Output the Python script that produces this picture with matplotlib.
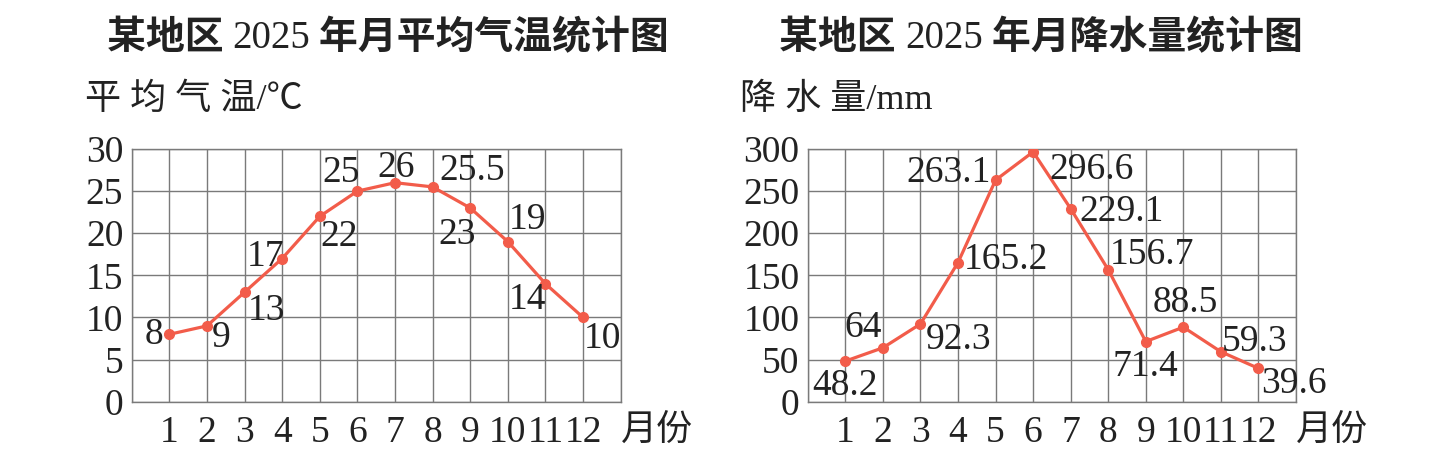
import matplotlib
matplotlib.use("Agg")
from matplotlib import pyplot as plt

###
# Monthly mean temperature and precipitation, 2025
###

months = list(range(1, 13))
temp = [8, 9, 13, 17, 22, 25, 26, 25.5, 23, 19, 14, 10]
rain = [48.2, 64, 92.3, 165.2, 263.1, 296.6, 229.1, 156.7, 71.4, 88.5, 59.3, 39.6]

temp_title = ["某地区 ", "2025", " 年月平均气温统计图"]
rain_title = ["某地区 ", "2025", " 年月降水量统计图"]
temp_ylabel = "平 均 气 温/℃"
rain_ylabel = "降 水 量/mm"
xlabel = "月份"

# label offsets in pixels (dx right, dy down) from each point
temp_off = [(-15, 0), (14, 12), (22, 19), (-17, -2), (19, 20), (-16, -18),
            (1, -15), (40, -16), (-13, 27), (20, -22), (-18, 16), (19, 21)]
rain_off = [(0, 25), (-20, -20), (38, 16), (48, -3), (-47, -7), (58, 18),
            (51, 3), (44, -15), (0, 25), (2, -24), (34, -10), (35, 15)]

W, H = 1441, 463
CJK = "Noto Sans CJK SC"
SERIF = "Liberation Serif"
MIXED = [SERIF, CJK]
INK = "#222222"
RED = "#f25c4a"
GRID = "#7a7a7a"
NUM = 27

fig = plt.figure(figsize=(W / 100, H / 100), dpi=100)


def make_axes(left_px, width_px, values, ymax, ystep, offsets, ylabel, ylab_x):
    ax = fig.add_axes([left_px / W, (H - 401.7) / H, width_px / W, (401.7 - 149) / H])
    ax.set_xlim(0, 13)
    ax.set_ylim(0, ymax)
    ax.set_xticks(range(0, 14))
    ax.set_xticklabels([""] + [str(m) for m in months] + [""])
    ax.set_yticks(range(0, ymax + 1, ystep))
    ax.grid(True, color=GRID, lw=1.0)
    ax.set_axisbelow(True)
    for s in ax.spines.values():
        s.set_color(GRID)
        s.set_linewidth(1.0)
    ax.tick_params(length=0, labelsize=NUM, labelcolor=INK)
    ax.tick_params(axis="y", pad=6)
    ax.tick_params(axis="x", pad=10)
    for lab in ax.get_xticklabels() + ax.get_yticklabels():
        lab.set_family(SERIF)
    ax.plot(months, values, color=RED, lw=2.3, marker="o", ms=7, zorder=3)
    for m, v, (dx, dy) in zip(months, values, offsets):
        ax.annotate(f"{v:g}", (m, v), xytext=(dx, -dy), textcoords="offset pixels",
                    ha="center", va="center", fontsize=NUM, family=SERIF, color=INK,
                    zorder=4)
    # axis captions
    fig.text(ylab_x / W, 1 - 100 / H, ylabel, ha="left", va="center",
             fontsize=26, family=MIXED, color=INK)
    fig.text((left_px + width_px) / W, 1 - 430 / H, xlabel, ha="left", va="center",
             fontsize=26, family=CJK, color=INK)
    return ax


def centered_title(cx_px, pieces):
    texts = []
    for i, p in enumerate(pieces):
        if i == 1:
            t = fig.text(0, 1 - 38 / H, p, fontsize=28, family=SERIF, color=INK,
                         ha="left", va="center")
        else:
            t = fig.text(0, 1 - 38 / H, p, fontsize=28, family=CJK, weight="bold",
                         color=INK, ha="left", va="center")
        texts.append(t)
    r = fig.canvas.get_renderer()
    widths = [t.get_window_extent(r).width for t in texts]
    x = cx_px - sum(widths) / 2
    for t, w in zip(texts, widths):
        t.set_x(x / W)
        x += w


make_axes(131.7, 489.0, temp, 30, 5, temp_off, temp_ylabel, 85)
make_axes(807.8, 488.2, rain, 300, 50, rain_off, rain_ylabel, 740)

centered_title(388, temp_title)
centered_title(1041, rain_title)

plt.savefig("out.png", dpi=100)
